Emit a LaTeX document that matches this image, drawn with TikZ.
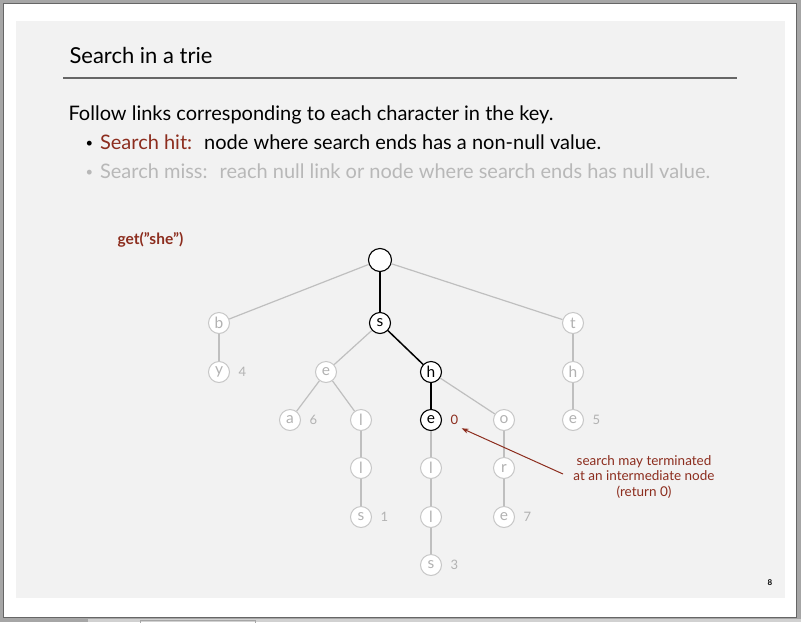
\documentclass[tikz,border=0pt]{standalone}
\usepackage{fontspec}
\setmainfont{Lato}
\usetikzlibrary{arrows.meta}

\definecolor{hit}{RGB}{140,45,30}
\definecolor{miss}{RGB}{185,185,185}
\definecolor{slide}{RGB}{242,242,242}
\definecolor{winframe}{RGB}{166,166,166}

\newcommand{\dotmark}{\raisebox{1.8pt}{\fontsize{13}{13}\selectfont\textbullet}\hspace{7pt}}
\newcommand{\qq}{\symbol{34}}

\tikzset{
	body/.style={anchor=base west, font=\fontsize{20}{23}\selectfont},
	trie/.style={circle, fill=white, minimum size=21pt, inner sep=0pt, font=\fontsize{15.5}{15.5}\selectfont},
	off/.style={trie, draw=black!22, line width=1pt, text=black!30},
	on/.style={trie, draw=black, line width=1.1pt, text=black},
	val/.style={font=\fontsize{13}{13}\selectfont, text=black!30, label distance=5pt},
	faint/.style={draw=black!25, line width=1.2pt},
	path/.style={draw=black, line width=1.5pt}
}

\begin{document}
\begin{tikzpicture}[x=1pt,y=-1pt]

	\useasboundingbox (0,0) rectangle (801,622);
	\fill[winframe] (0,0) rectangle (801,622);
	\filldraw[fill=white, draw=black!60, line width=1pt] (3.5,3.5) rectangle (796.5,617.5);
	\fill[black!18] (88,618.5) rectangle (801,622);
	\draw[black!35] (140,620.5) rectangle (255,623);
	\fill[slide] (16,21) rectangle (785,598);

	% title and text
	\node[anchor=base west, font=\fontsize{22}{26}\selectfont] (title) at (66,63) {Search in a trie};
	\draw[black!60, line width=1.3pt] (63,78) -- (737,78);

	\node[body] (intro) at (65,120) {Follow links corresponding to each character in the key.};
	\node[body] (hitline) at (82,149) {\dotmark\textcolor{hit}{Search hit:}\hspace{12pt}node where search ends has a non-null value.};
	\node[body, text=black!28] (missline) at (82,178) {\dotmark Search miss:\hspace{12pt}reach null link or node where search ends has null value.};

	\node[anchor=west, font=\bfseries\fontsize{15.5}{15.5}\selectfont, text=hit] (query) at (114,240) {get(\qq she\qq)};

	% the trie
	\node[on, minimum size=23pt] (root) at (380,260) {};

	\node[off] (b) at (219,323) {b};
	\node[on] (s) at (380,323) {s};
	\node[off] (t) at (573,323) {t};

	\node[off, label={[val]0:4}] (by) at (219,372) {y};
	\node[off] (se) at (326,372) {e};
	\node[on] (sh) at (431,372) {h};
	\node[off] (th) at (573,372) {h};

	\node[off, label={[val]0:6}] (sea) at (290,420) {a};
	\node[off] (sel) at (361,420) {l};
	\node[on, label={[val, text=hit, name=zero]0:0}] (she) at (431,420) {e};
	\node[off] (sho) at (504,420) {o};
	\node[off, label={[val]0:5}] (the) at (573,420) {e};

	\node[off] (sell) at (361,468) {l};
	\node[off] (shel) at (431,468) {l};
	\node[off] (shor) at (504,468) {r};

	\node[off, label={[val]0:1}] (sells) at (361,517) {s};
	\node[off] (shell) at (431,517) {l};
	\node[off, label={[val]0:7}] (shore) at (504,517) {e};

	\node[off, label={[val]0:3}] (shells) at (431,565) {s};

	% links
	\draw[faint] (root) -- (b);
	\draw[faint] (root) -- (t);
	\draw[faint] (b) -- (by);
	\draw[faint] (s) -- (se);
	\draw[faint] (t) -- (th);
	\draw[faint] (se) -- (sea);
	\draw[faint] (se) -- (sel);
	\draw[faint] (sh) -- (sho);
	\draw[faint] (th) -- (the);
	\draw[faint] (sel) -- (sell);
	\draw[faint] (she) -- (shel);
	\draw[faint] (sho) -- (shor);
	\draw[faint] (sell) -- (sells);
	\draw[faint] (shel) -- (shell);
	\draw[faint] (shor) -- (shore);
	\draw[faint] (shell) -- (shells);

	\draw[path] (root) -- (s);
	\draw[path] (s) -- (sh);
	\draw[path] (sh) -- (she);

	% note
	\node[align=center, text=hit, font=\fontsize{13.5}{15.5}\selectfont] (note) at (644,477) {search may terminated\\at an intermediate node\\(return 0)};
	\coordinate (tail) at (563,474);
	\draw[hit, line width=1pt, -{Stealth[length=7pt,width=5pt]}] (tail) -- (zero.south east);

	\node[font=\bfseries\fontsize{8}{8}\selectfont] (page) at (770,583) {8};
\end{tikzpicture}
\end{document}
